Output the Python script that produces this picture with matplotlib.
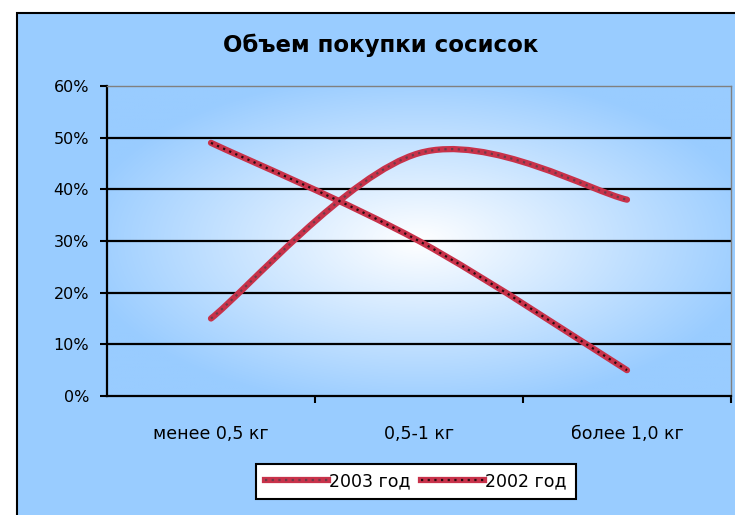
import numpy as np
import matplotlib
matplotlib.use('Agg')
import matplotlib.pyplot as plt
from matplotlib.path import Path
from matplotlib.patches import PathPatch, Rectangle
from matplotlib.lines import Line2D
from matplotlib.legend_handler import HandlerTuple

plt.rcParams['font.family'] = ['DejaVu Sans']

# data
categories = ['менее 0,5 кг', '0,5-1 кг', 'более 1,0 кг']
series_names = ['2003 год', '2002 год']
values_2003 = [15, 47, 38]
values_2002 = [49, 30, 5]
y_ticks = [0, 10, 20, 30, 40, 50, 60]

line_red = '#C8324A'
bg_blue = '#99CCFF'

W, H = 735, 515
fig = plt.figure(figsize=(W / 100, H / 100), dpi=100)
fig.patch.set_facecolor('white')

# blue chart area with black border (top/left visible)
fig.patches.append(Rectangle((17 / W, -0.05), 1.2, 1 - 13 / H + 0.05,
                             transform=fig.transFigure, facecolor=bg_blue,
                             edgecolor='black', linewidth=1.5, zorder=-5))

ax = fig.add_axes([107 / W, 1 - 396 / H, (731 - 107) / W, (396 - 86) / H])
ax.set_zorder(2)
ax.set_xlim(-0.5, 2.5)
ax.set_ylim(0, 60)

# radial gradient for plot area
gx, gy = np.meshgrid(np.linspace(-1, 1, 300), np.linspace(-1, 1, 200))
r = np.clip(np.sqrt(gx ** 2 + gy ** 2) / 1.1, 0, 1)
c0 = np.array([1.0, 1.0, 1.0])
c1 = np.array([0x99, 0xCC, 0xFF]) / 255
img = c0[None, None, :] * (1 - r[..., None]) + c1[None, None, :] * r[..., None]
ax.imshow(img, extent=[-0.5, 2.5, 0, 60], aspect='auto', zorder=0, interpolation='bilinear')

# gridlines
for v in y_ticks[1:-1]:
    ax.axhline(v, color='black', linewidth=1.6, zorder=1)

for s in ['top', 'right']:
    ax.spines[s].set_color('#808080')
    ax.spines[s].set_linewidth(1)
for s in ['left', 'bottom']:
    ax.spines[s].set_color('black')
    ax.spines[s].set_linewidth(1.6)


def smooth_path(xs, ys):
    # Excel-style smoothed line as cubic bezier segments
    pts = np.column_stack([xs, ys]).astype(float)
    n = len(pts)
    verts = [pts[0]]
    codes = [Path.MOVETO]
    for i in range(n - 1):
        p_prev = pts[max(i - 1, 0)]
        p0 = pts[i]
        p1 = pts[i + 1]
        p_next = pts[min(i + 2, n - 1)]
        verts += [p0 + (p1 - p_prev) / 6, p1 - (p_next - p0) / 6, p1]
        codes += [Path.CURVE4] * 3
    return Path(verts, codes)


x = np.arange(len(categories))
handles = []
for vals, dot_color in [(values_2003, '#6E3A48'), (values_2002, '#2A0A10')]:
    p = smooth_path(x, vals)
    ax.add_patch(PathPatch(p, fill=False, edgecolor=line_red, linewidth=4.5,
                           capstyle='round', zorder=3))
    ax.add_patch(PathPatch(p, fill=False, edgecolor=dot_color, linewidth=1.6,
                           linestyle=(0, (1, 2)), zorder=4))
    handles.append((Line2D([], [], color=line_red, linewidth=4.5),
                    Line2D([], [], color=dot_color, linewidth=1.6, linestyle=(0, (1, 2)))))

ax.set_yticks(y_ticks)
ax.set_yticklabels([f'{v}%' for v in y_ticks])
ax.set_xticks(x)
ax.set_xticklabels(categories)
ax.set_xticks([0.5, 1.5, 2.5], minor=True)
ax.tick_params(axis='y', direction='out', length=5, width=1.5, pad=8, labelsize=11.5)
ax.tick_params(axis='x', which='major', length=0, pad=21, labelsize=12.5)
ax.tick_params(axis='x', which='minor', direction='out', length=5, width=1.5)

fig.text(381 / W, 1 - 45 / H, 'Объем покупки сосисок', ha='center', va='center',
         fontsize=16.5, fontweight='bold')

leg = fig.legend(handles, series_names, loc='upper center',
                 bbox_to_anchor=(416 / W, 1 - 455 / H), ncol=2,
                 handler_map={tuple: HandlerTuple(ndivide=1, pad=0)},
                 handlelength=3.6, handletextpad=0.1, columnspacing=0.6,
                 fontsize=12.5, fancybox=False, framealpha=1,
                 edgecolor='black', borderpad=0.5)
leg.get_frame().set_linewidth(1.5)

fig.savefig('out.png', dpi=100, facecolor=fig.get_facecolor())
